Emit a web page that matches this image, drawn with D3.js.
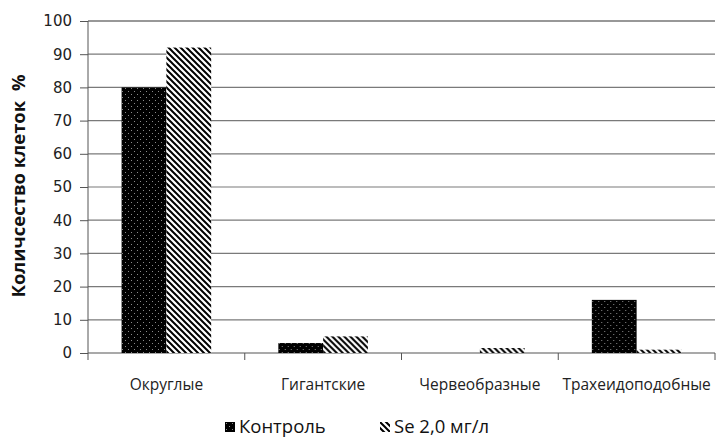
<!DOCTYPE html>
<html>
<head>
<meta charset="utf-8">
<script src="https://cdn.jsdelivr.net/npm/d3@7"></script>
<style>
  body { margin: 0; background: #fff; }
  svg { display: block; }
</style>
</head>
<body>
<div id="chart"></div>
<script>
// data
const categories = ["Округлые", "Гигантские", "Червеобразные", "Трахеидоподобные"];
const seriesNames = ["Контроль", "Se 2,0 мг/л"];
const control = [80, 3, 0, 16];
const selenium = [92, 5, 1.5, 1];
const yTicks = [0, 10, 20, 30, 40, 50, 60, 70, 80, 90, 100];

const W = 716, H = 438;
const margin = { top: 21, right: 1, bottom: 85, left: 88 };
const width = W - margin.left - margin.right;
const height = H - margin.top - margin.bottom;

const svg = d3.select("#chart")
  .append("svg")
  .attr("width", W)
  .attr("height", H);

// fill patterns
const defs = svg.append("defs");
const dots = defs.append("pattern")
  .attr("id", "dots")
  .attr("patternUnits", "userSpaceOnUse")
  .attr("width", 6).attr("height", 6);
dots.append("rect").attr("width", 6).attr("height", 6).attr("fill", "#000");
dots.append("rect").attr("x", 1).attr("y", 1).attr("width", 1).attr("height", 1).attr("fill", "#8a8a8a");
dots.append("rect").attr("x", 4).attr("y", 4).attr("width", 1).attr("height", 1).attr("fill", "#8a8a8a");

const hatch = defs.append("pattern")
  .attr("id", "hatch")
  .attr("patternUnits", "userSpaceOnUse")
  .attr("width", 6).attr("height", 6);
hatch.append("rect").attr("width", 6).attr("height", 6).attr("fill", "#fff");
hatch.append("path")
  .attr("d", "M-1,-1 L7,7 M-1,5 L1,7 M5,-1 L7,1")
  .attr("stroke", "#000")
  .attr("stroke-width", 2);

const g = svg.append("g")
  .attr("transform", "translate(" + margin.left + "," + margin.top + ")");

const x = d3.scaleBand().domain(categories).range([0, width]).paddingInner(0).paddingOuter(0);
const barW = x.bandwidth() / 3.5;
const xs = d3.scaleBand().domain(seriesNames).range([barW * 0.75, barW * 2.75]);
const y = d3.scaleLinear().domain([0, 100]).range([height, 0]);

// gridlines
g.selectAll(".grid")
  .data(yTicks.filter(d => d > 0))
  .enter().append("line")
  .attr("x1", 0).attr("x2", width)
  .attr("y1", d => y(d)).attr("y2", d => y(d))
  .attr("stroke", d => d === 100 ? "#333" : "#7a7a7a")
  .attr("stroke-width", 1.2);

// y axis
const yAxis = g.append("g")
  .call(d3.axisLeft(y).tickValues(yTicks).tickSize(8).tickPadding(8));
yAxis.attr("font-family", null).attr("font-size", null);
yAxis.select(".domain").attr("stroke", "#555").attr("d", "M0," + y(100) + "V" + y(0));
yAxis.selectAll(".tick line").attr("stroke", "#555");
yAxis.selectAll("text")
  .style("font-family", "'DejaVu Sans', sans-serif")
  .style("font-size", "15px")
  .attr("fill", "#222");

// x axis
const xAxis = g.append("g")
  .attr("transform", "translate(0," + height + ")");
xAxis.append("line")
  .attr("x1", 0).attr("x2", width)
  .attr("stroke", "#555").attr("stroke-width", 1.2);
xAxis.selectAll(".xtick")
  .data(categories.concat(["end"]))
  .enter().append("line")
  .attr("x1", (d, i) => i * x.step()).attr("x2", (d, i) => i * x.step())
  .attr("y1", 0).attr("y2", 7)
  .attr("stroke", "#555");
xAxis.selectAll(".xlabel")
  .data(categories)
  .enter().append("text")
  .attr("x", d => x(d) + x.bandwidth() / 2)
  .attr("y", 37)
  .attr("text-anchor", "middle")
  .style("font-family", "'Open Sans', sans-serif")
  .style("font-size", "15.5px")
  .attr("fill", "#222")
  .text(d => d);

// bars
const rows = categories.map((c, i) => ({ cat: c, values: [control[i], selenium[i]] }));
const fills = ["url(#dots)", "url(#hatch)"];
const grp = g.selectAll(".grp")
  .data(rows)
  .enter().append("g")
  .attr("transform", d => "translate(" + x(d.cat) + ",0)");
grp.selectAll("rect")
  .data(d => d.values.map((v, j) => ({ name: seriesNames[j], v: v, j: j })))
  .enter().append("rect")
  .attr("x", d => xs(d.name))
  .attr("width", xs.bandwidth())
  .attr("y", d => y(d.v))
  .attr("height", d => height - y(d.v))
  .attr("fill", d => fills[d.j]);

// y label (spelling as in the original)
svg.append("text")
  .attr("transform", "translate(25,186) rotate(-90)")
  .attr("text-anchor", "middle")
  .style("font-family", "'Open Sans', sans-serif")
  .style("font-weight", "bold")
  .style("font-size", "18.5px")
  .style("white-space", "pre")
  .attr("fill", "#111")
  .text("Количсество клеток  %");

// legend
const legendX = [225, 380];
const leg = svg.selectAll(".leg")
  .data(seriesNames)
  .enter().append("g")
  .attr("transform", (d, i) => "translate(" + legendX[i] + ",422)");
leg.append("rect")
  .attr("width", 10).attr("height", 10)
  .attr("fill", (d, i) => fills[i]);
leg.append("text")
  .attr("x", 14).attr("y", 10.5)
  .style("font-family", "'Open Sans', sans-serif")
  .style("font-size", "18.5px")
  .attr("fill", "#111")
  .text(d => d);
</script>
</body>
</html>
